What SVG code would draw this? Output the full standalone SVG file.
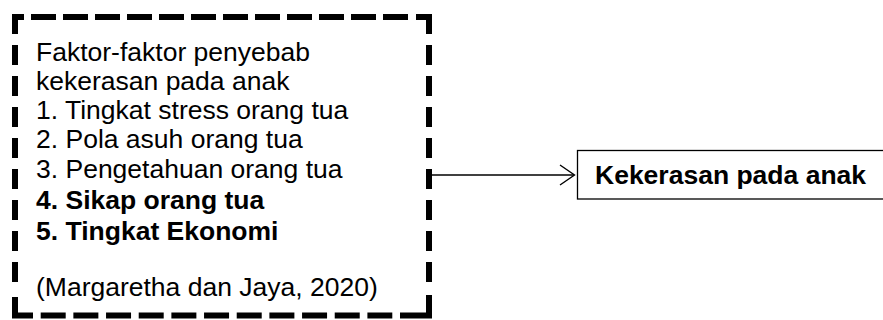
<svg xmlns="http://www.w3.org/2000/svg" width="883" height="320" viewBox="0 0 883 320">
  <style>
    .frame { fill: none; stroke: #000; stroke-width: 6; stroke-linejoin: miter; stroke-linecap: butt; }
    .dash-h { stroke-dasharray: 25 7; }
    .dash-b { stroke-dasharray: 25 7.67; }
    .dash-v { stroke-dasharray: 20 11; }
    .txt { font-family: "Liberation Sans", Arial, sans-serif; font-size: 26.5px; fill: #000; }
    .b { font-weight: bold; }
    .box { fill: #fff; stroke: #000; stroke-width: 1.3; }
    .conn { fill: none; stroke: #000; stroke-width: 1.4; }
  </style>

  <g id="factors">
    <!-- corners -->
    <path class="frame" d="M15 34 V17 H24"/>
    <path class="frame" d="M416 17 H429 V34"/>
    <path class="frame" d="M15 297 V315.5 H33"/>
    <path class="frame" d="M400 315.5 H429 V295"/>
    <!-- dashed edges -->
    <path class="frame dash-h" d="M31 17 H408"/>
    <path class="frame dash-b" d="M40.7 315.5 H392.3"/>
    <path class="frame dash-v" d="M15 45 V282"/>
    <path class="frame dash-v" d="M429 45 V282"/>
    <text class="txt" x="36" y="61">Faktor-faktor penyebab</text>
    <text class="txt" x="36" y="90">kekerasan pada anak</text>
    <text class="txt" x="36" y="119">1. Tingkat stress orang tua</text>
    <text class="txt" x="36" y="148">2. Pola asuh orang tua</text>
    <text class="txt" x="36" y="178">3. Pengetahuan orang tua</text>
    <text class="txt b" x="36" y="209">4. Sikap orang tua</text>
    <text class="txt b" x="36" y="240">5. Tingkat Ekonomi</text>
    <text class="txt" x="36" y="296">(Margaretha dan Jaya, 2020)</text>
  </g>

  <g id="outcome">
    <rect class="box" x="577.5" y="150.5" width="330" height="48.5"/>
    <text class="txt b" x="595" y="183.5">Kekerasan pada anak</text>
  </g>

  <g id="connectors">
    <path class="conn" d="M432 175 H574"/>
    <path class="conn" d="M560 165 L574.5 175 L560 185"/>
  </g>
</svg>
